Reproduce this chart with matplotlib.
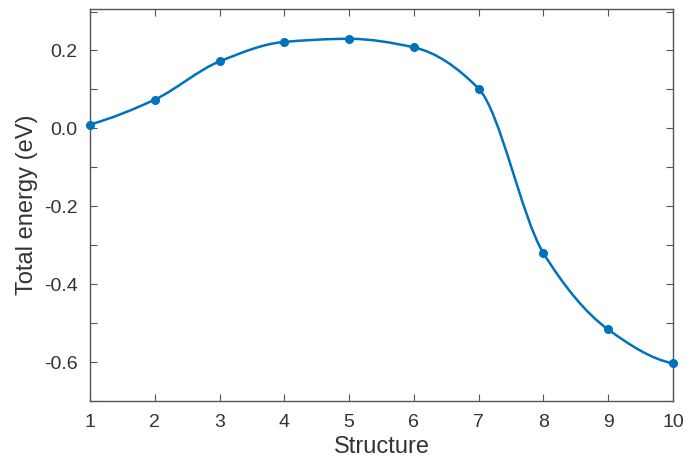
import numpy as np
import matplotlib
matplotlib.use("Agg")
import matplotlib.pyplot as plt
from matplotlib.path import Path
from matplotlib.patches import PathPatch

plt.rcParams['font.family'] = ['Liberation Sans', 'DejaVu Sans']

structure = [1, 2, 3, 4, 5, 6, 7, 8, 9, 10]
energy = [0.010, 0.074, 0.172, 0.222, 0.230, 0.208, 0.102, -0.320, -0.516, -0.603]
yticks = [-0.7, -0.6, -0.5, -0.4, -0.3, -0.2, -0.1, 0.0, 0.1, 0.2, 0.3]
ytick_labels = ['', '-0.6', '', '-0.4', '', '-0.2', '', '0.0', '', '0.2', '']

line_col = '#0072BD'
ax_col = '#555555'
txt_col = '#333333'

x = np.array(structure, dtype=float)
y = np.array(energy)
n = len(x)

# pchip slopes (shape preserving), curve drawn as bezier segments
d = np.diff(y) / np.diff(x)
m = np.zeros(n)
for k in range(1, n - 1):
    if d[k - 1] * d[k] > 0:
        m[k] = 2 / (1 / d[k - 1] + 1 / d[k])


def end_slope(d0, d1):
    s = (3 * d0 - d1) / 2
    if np.sign(s) != np.sign(d0):
        return 0.0
    if np.sign(d0) != np.sign(d1) and abs(s) > abs(3 * d0):
        return 3 * d0
    return s


m[0] = end_slope(d[0], d[1])
m[-1] = end_slope(d[-1], d[-2])

verts = [(x[0], y[0])]
codes = [Path.MOVETO]
for i in range(n - 1):
    h = x[i + 1] - x[i]
    verts += [(x[i] + h / 3, y[i] + m[i] * h / 3),
              (x[i + 1] - h / 3, y[i + 1] - m[i + 1] * h / 3),
              (x[i + 1], y[i + 1])]
    codes += [Path.CURVE4] * 3

fig = plt.figure(figsize=(6.93, 4.59), dpi=100)
ax = fig.add_axes([0.130, 0.126, 0.841, 0.854])

ax.add_patch(PathPatch(Path(verts, codes), facecolor='none', edgecolor=line_col, lw=1.8, zorder=3))
ax.plot(structure, energy, 'o', color=line_col, ms=5.5, zorder=4, clip_on=False)

ax.set_xlim(1, 10)
ax.set_ylim(-0.7, 0.306)
ax.set_xticks(structure)
ax.set_yticks(yticks)
ax.set_yticklabels(ytick_labels)

for s in ax.spines.values():
    s.set_color(ax_col)
    s.set_linewidth(1.0)
ax.tick_params(direction='in', length=5, width=0.8, color=ax_col, labelcolor=txt_col,
               labelsize=14, top=True, right=True, pad=9)

ax.set_xlabel('Structure', fontsize=17, color=txt_col, labelpad=4)
ax.set_ylabel('Total energy (eV)', fontsize=17, color=txt_col, labelpad=4)

fig.savefig('out.png', dpi=100)
